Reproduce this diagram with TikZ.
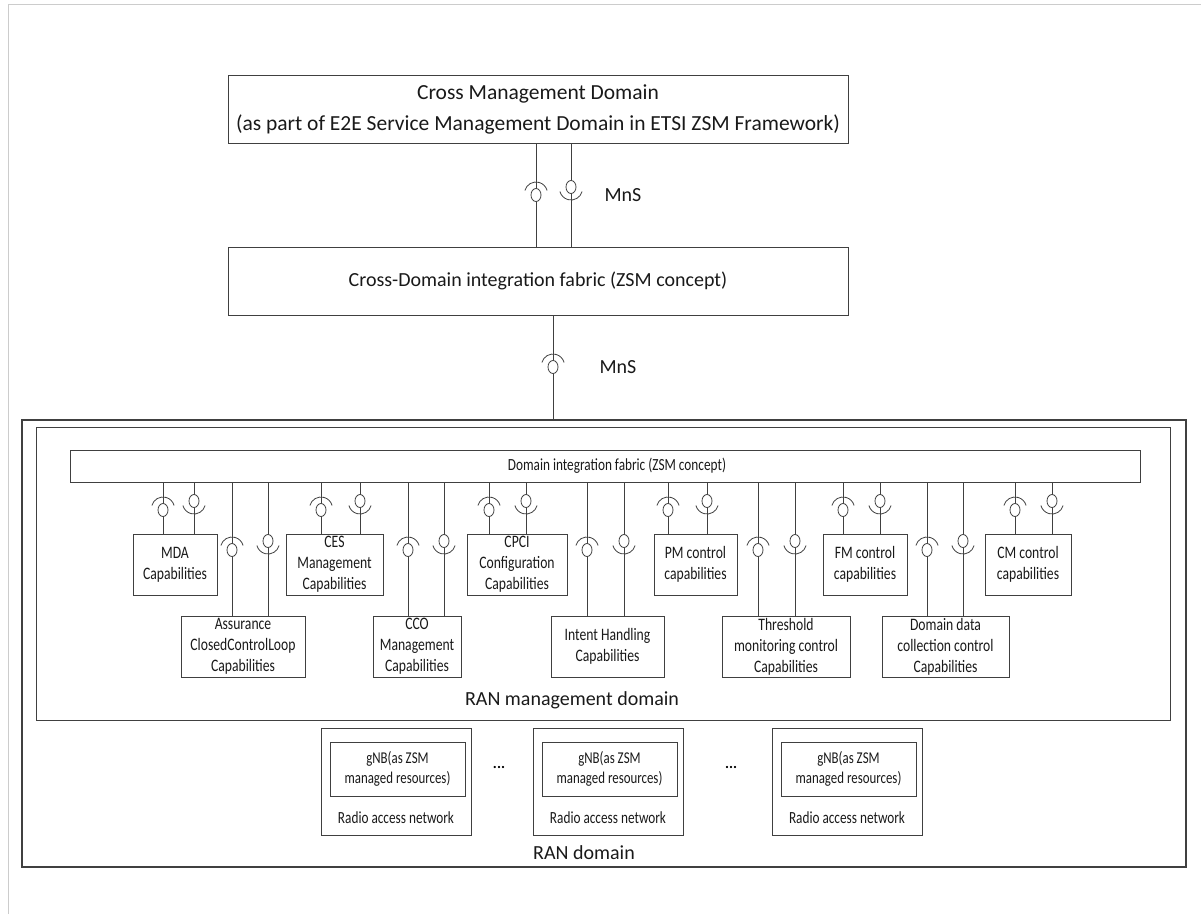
\documentclass[tikz,border=0pt]{standalone}
\usepackage{fontspec}
\setmainfont{Carlito}
\newfontfamily\condfont{Carlito}[FakeStretch=0.78]
\usepackage{tikz}

\tikzstyle{bigbox}=[rectangle,draw,inner sep=0pt,align=center,font=\fontsize{20}{31}\selectfont]
\tikzstyle{dombox}=[rectangle,draw,inner sep=0pt]
\tikzstyle{capbox}=[rectangle,draw,inner sep=0pt,align=center,font=\condfont\fontsize{17.5}{21}\selectfont]
\tikzstyle{toprow}=[capbox,minimum height=61]
\tikzstyle{lowrow}=[capbox,minimum height=61]
\tikzstyle{gnbbox}=[capbox,font=\condfont\fontsize{16.5}{20}\selectfont]
\tikzstyle{smalltxt}=[inner sep=0pt,align=center,font=\condfont\fontsize{17}{20}\selectfont]
\tikzstyle{dotstxt}=[inner sep=0pt,text=black,font=\bfseries\fontsize{15}{16}\selectfont]
\tikzstyle{lbl}=[inner sep=0pt,font=\fontsize{20}{24}\selectfont]
\tikzset{
  sockup/.pic={
    \draw[fill=white] (0,0) ellipse (5 and 6.5);
    \draw (0,-1.5) ++(195:11.5) arc (195:345:11.5);
  },
  sockdown/.pic={
    \draw[fill=white] (0,0) ellipse (5 and 6.5);
    \draw (0,1.5) ++(15:11.5) arc (15:165:11.5);
  }
}

\begin{document}
\begin{tikzpicture}[x=1pt,y=-1pt,line width=0.8pt,color=black!75,text=black!90]
  \useasboundingbox (0,0) rectangle (1201,914);
  \draw[gray!40] (8,914) -- (8,4) -- (1201,4);

  % cross domain part
  \node[bigbox,minimum width=620,minimum height=68,font=\fontsize{21.5}{31}\selectfont] (xmd) at (538,109)
    {Cross Management Domain\\(as part of E2E Service Management Domain in ETSI ZSM Framework)};
  \node[bigbox,minimum width=620,minimum height=68] (xdif) at (538,281)
    {Cross-Domain integration fabric (ZSM concept)};
  \node[dombox,line width=1.2pt,minimum width=1164,minimum height=447] (ran) at (604,643.5) {};

  \draw (xmd.south -| 536,0) -- (xdif.north -| 536,0);
  \draw (xmd.south -| 571,0) -- (xdif.north -| 571,0);
  \pic at (536,195) {sockup};
  \pic at (571,187) {sockdown};
  \node[lbl] (mns1) at (623,195) {MnS};
  \draw (xdif.south -| 553,0) -- (ran.north -| 553,0);
  \pic at (553,367) {sockup};
  \node[lbl] (mns2) at (618,367) {MnS};

  % RAN management domain
  \node[dombox,minimum width=1134,minimum height=293] (rmd) at (603,573.5) {};
  \node[dombox,minimum width=1070,minimum height=32] (dif) at (605,466) {};
  \node[smalltxt] (diftxt) at (617,466) {Domain integration fabric (ZSM concept)};
  \node[lbl] (rmdtxt) at (572,700) {RAN management domain};

  \node[toprow,minimum width=84] (mda) at (175,564.5) {MDA\\Capabilities};
  \node[lowrow,minimum width=124] (acl) at (243,646.5) {Assurance\\ClosedControlLoop\\Capabilities};
  \node[toprow,minimum width=97] (ces) at (334.5,564.5) {CES\\Management\\Capabilities};
  \node[lowrow,minimum width=88] (cco) at (417,646.5) {CCO\\Management\\Capabilities};
  \node[toprow,minimum width=100] (cpci) at (517,564.5) {CPCI\\Configuration\\Capabilities};
  \node[lowrow,minimum width=113] (ih) at (607.5,646.5) {Intent Handling\\Capabilities};
  \node[toprow,minimum width=83] (pm) at (695.5,564.5) {PM control\\capabilities};
  \node[lowrow,minimum width=128] (thr) at (786,646.5) {Threshold\\monitoring control\\Capabilities};
  \node[toprow,minimum width=84] (fm) at (865,564.5) {FM control\\capabilities};
  \node[lowrow,minimum width=127] (ddc) at (945.5,646.5) {Domain data\\collection control\\Capabilities};
  \node[toprow,minimum width=86] (cm) at (1028,564.5) {CM control\\capabilities};

  \foreach \bx/\xa/\ya/\xb/\yb in {mda/163/510/194/501, acl/232/550/268/541,
      ces/321/510/360/501, cco/408/550/444/541, cpci/489/510/526/501,
      ih/587/550/624/541, pm/668/510/707/501, thr/758/550/795/541,
      fm/843/510/880/501, ddc/927/550/963/541, cm/1015/510/1052/501}{
    \draw (dif.south -| \xa,0) -- (\bx.north -| \xa,0);
    \draw (dif.south -| \xb,0) -- (\bx.north -| \xb,0);
    \pic at (\xa,\ya) {sockup};
    \pic at (\xb,\yb) {sockdown};
  }

  % radio access networks
  \foreach \i/\cx in {1/396, 2/608, 3/847}{
    \node[dombox,minimum width=150,minimum height=107] (ran\i) at (\cx,781.5) {};
    \node[gnbbox,minimum width=135,minimum height=54] (gnb\i) at (\cx+1.5,769)
      {gNB(as ZSM\\managed resources)};
    \node[smalltxt] (rtxt\i) at (\cx,818) {Radio access network};
  }
  \node[dotstxt] (dots1) at (499,767) {...};
  \node[dotstxt] (dots2) at (731,767) {...};
  \node[lbl] (randtxt) at (584,853) {RAN domain};
\end{tikzpicture}
\end{document}
